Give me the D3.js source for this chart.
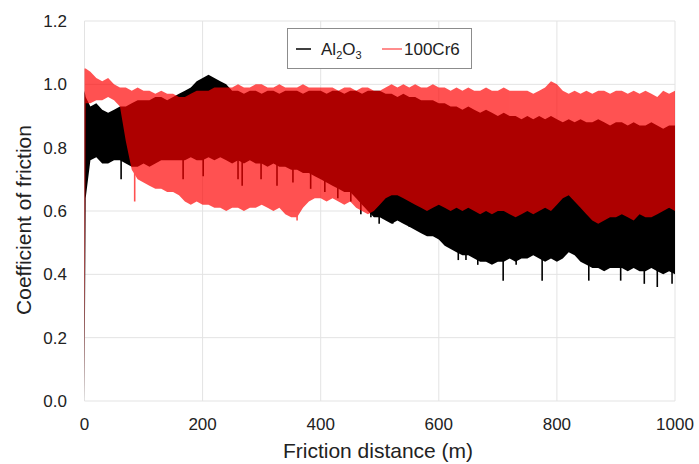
<!DOCTYPE html>
<html><head><meta charset="utf-8">
<script src="https://cdn.jsdelivr.net/npm/d3@7"></script>
<style>body{margin:0;background:#fff}svg{display:block}</style>
</head><body><svg id="c" width="699" height="464"></svg>
<script>
// Friction distance (m) of each sample of the band envelopes
const distance = [0,2,10,20,30,40,50,60,70,80,90,100,110,120,130,140,150,160,170,180,190,200,210,220,230,240,250,260,270,280,290,300,310,320,330,340,350,360,370,380,390,400,410,420,430,440,450,460,470,480,490,500,510,520,530,540,550,560,570,580,590,600,610,620,630,640,650,660,670,680,690,700,710,720,730,740,750,760,770,780,790,800,810,820,830,840,850,860,870,880,890,900,910,920,930,940,950,960,970,980,990,1000];
// Al2O3 : upper / lower envelope of the oscillating friction trace
const al2o3Upper = [0.98,0.96,0.93,0.94,0.92,0.91,0.92,0.93,0.93,0.94,0.95,0.95,0.95,0.96,0.96,0.95,0.96,0.97,0.98,0.99,1.01,1.02,1.03,1.02,1.01,1.00,0.98,0.98,0.97,0.98,0.98,0.97,0.98,0.98,0.97,0.98,0.98,0.98,0.97,0.98,0.98,0.98,0.97,0.98,0.98,0.97,0.98,0.98,0.97,0.98,0.98,0.98,0.97,0.97,0.96,0.97,0.96,0.96,0.95,0.95,0.95,0.94,0.94,0.93,0.93,0.92,0.93,0.92,0.91,0.92,0.91,0.90,0.91,0.90,0.90,0.89,0.90,0.89,0.90,0.89,0.90,0.89,0.88,0.89,0.88,0.89,0.88,0.88,0.89,0.88,0.87,0.88,0.88,0.87,0.88,0.87,0.87,0.88,0.87,0.86,0.87,0.87];
const al2o3Lower = [0.00,0.64,0.76,0.77,0.75,0.75,0.76,0.76,0.75,0.74,0.74,0.75,0.74,0.75,0.76,0.76,0.76,0.76,0.76,0.77,0.76,0.76,0.77,0.76,0.77,0.76,0.75,0.76,0.75,0.76,0.75,0.75,0.74,0.75,0.74,0.74,0.73,0.73,0.72,0.72,0.71,0.70,0.69,0.68,0.67,0.66,0.66,0.64,0.62,0.60,0.58,0.58,0.57,0.56,0.57,0.56,0.55,0.54,0.53,0.52,0.52,0.51,0.49,0.48,0.47,0.46,0.46,0.45,0.44,0.44,0.43,0.44,0.44,0.45,0.44,0.45,0.45,0.46,0.45,0.44,0.45,0.44,0.45,0.47,0.46,0.44,0.43,0.42,0.42,0.41,0.42,0.42,0.42,0.41,0.42,0.41,0.41,0.42,0.41,0.40,0.41,0.40];
// Al2O3 : deepest single downward spikes (distance, value)
const al2o3DipDistance = [62,167,201,260,267,299,326,353,383,407,429,451,468,485,499,522,550,575,633,646,666,709,731,775,854,908,948,970,995];
const al2o3DipValue = [0.70,0.70,0.71,0.70,0.68,0.70,0.68,0.69,0.67,0.66,0.64,0.63,0.59,0.58,0.56,0.56,0.55,0.53,0.445,0.445,0.43,0.38,0.43,0.38,0.38,0.38,0.37,0.36,0.37];
// 100Cr6 : upper / lower envelope
const cr6Upper = [1.05,1.05,1.04,1.02,1.01,1.02,1.00,0.99,0.99,0.98,0.99,0.98,0.98,0.97,0.98,0.97,0.97,0.96,0.96,0.97,0.98,0.98,0.98,0.99,0.99,0.99,0.99,1.00,0.99,0.99,1.00,1.00,0.99,0.99,1.00,0.99,0.99,0.99,1.00,0.99,0.99,0.99,0.99,0.99,0.98,0.99,0.99,0.98,0.99,0.99,0.98,0.98,0.99,1.00,0.99,1.00,0.99,1.00,0.99,0.99,1.00,0.99,0.99,0.98,0.99,0.98,0.99,0.98,0.98,0.99,0.98,0.98,0.99,0.98,0.98,0.98,0.98,0.97,0.98,0.99,1.01,1.00,0.98,0.97,0.98,0.97,0.98,0.97,0.98,0.98,0.97,0.98,0.98,0.97,0.98,0.97,0.98,0.97,0.96,0.98,0.97,0.98];
const cr6Lower = [0.00,0.94,0.94,0.95,0.95,0.96,0.95,0.93,0.82,0.73,0.70,0.69,0.68,0.67,0.67,0.66,0.66,0.65,0.63,0.62,0.63,0.62,0.62,0.61,0.61,0.60,0.61,0.61,0.60,0.61,0.61,0.62,0.61,0.60,0.61,0.59,0.58,0.58,0.61,0.63,0.64,0.64,0.63,0.64,0.63,0.62,0.63,0.61,0.60,0.59,0.60,0.62,0.64,0.65,0.65,0.64,0.63,0.62,0.61,0.60,0.61,0.62,0.61,0.60,0.61,0.60,0.61,0.60,0.59,0.60,0.59,0.60,0.60,0.59,0.58,0.59,0.60,0.59,0.60,0.61,0.60,0.62,0.64,0.65,0.63,0.61,0.59,0.57,0.56,0.57,0.58,0.58,0.59,0.58,0.57,0.59,0.58,0.58,0.59,0.60,0.61,0.60];
// 100Cr6 : deepest single downward spikes
const cr6DipDistance = [85,360];
const cr6DipValue = [0.63,0.57];
const xTicks = [0,200,400,600,800,1000];
const yTicks = [0.0,0.2,0.4,0.6,0.8,1.0,1.2];
const seriesNames = ["Al2O3","100Cr6"];

const svg = d3.select("#c");
const font = "Arial, 'Liberation Sans', Helvetica, sans-serif";
const x = d3.scaleLinear().domain([0,1000]).range([84.5,675]);
const y = d3.scaleLinear().domain([0,1.2]).range([401,21]);

// grid
const g = svg.append("g");
g.selectAll("line.h").data(yTicks).join("line")
  .attr("x1",x(0)).attr("x2",x(1000))
  .attr("y1",d=>y(d)).attr("y2",d=>y(d))
  .attr("stroke","#e3e3e3").attr("stroke-width",1);
g.selectAll("line.v").data(xTicks).join("line")
  .attr("y1",y(0)).attr("y2",y(1.2))
  .attr("x1",d=>x(d)).attr("x2",d=>x(d))
  .attr("stroke","#e3e3e3").attr("stroke-width",1);

const idx = d3.range(distance.length);
const al = idx.map(i=>({d:distance[i],hi:al2o3Upper[i],lo:al2o3Lower[i]}));
const cr = idx.map(i=>({d:distance[i],hi:cr6Upper[i],lo:cr6Lower[i]}));
const area = d3.area().x(p=>x(p.d)).y0(p=>y(p.lo)).y1(p=>y(p.hi)).curve(d3.curveLinear);
const nearest = d => Math.min(distance.length-1, d3.bisectLeft(distance,d));

const alG = svg.append("g");
alG.append("path").datum(al).attr("d",area).attr("fill","#000");
alG.selectAll("line").data(al2o3DipDistance.map((d,i)=>({d, v:al2o3DipValue[i]}))).join("line")
  .attr("x1",p=>x(p.d)).attr("x2",p=>x(p.d))
  .attr("y1",p=>y(p.v)).attr("y2",p=>y(al2o3Lower[nearest(p.d)]+0.02))
  .attr("stroke","#000").attr("stroke-width",1.6);

const crG = svg.append("g").attr("opacity",0.68);
crG.append("path").datum(cr).attr("d",area).attr("fill","#ff0000");
crG.selectAll("line").data(cr6DipDistance.map((d,i)=>({d, v:cr6DipValue[i]}))).join("line")
  .attr("x1",p=>x(p.d)).attr("x2",p=>x(p.d))
  .attr("y1",p=>y(p.v)).attr("y2",p=>y(cr6Lower[nearest(p.d)]+0.02))
  .attr("stroke","#ff0000").attr("stroke-width",1.6);

// axes labels
svg.append("g").selectAll("text").data(yTicks).join("text")
  .attr("x",67).attr("y",d=>y(d)).attr("dy","0.35em")
  .attr("text-anchor","end").attr("font-family",font).attr("font-size",17).attr("fill","#222")
  .text(d=>d3.format(".1f")(d));
svg.append("g").selectAll("text").data(xTicks).join("text")
  .attr("x",d=>x(d)).attr("y",430)
  .attr("text-anchor","middle").attr("font-family",font).attr("font-size",17).attr("fill","#222")
  .text(d=>d);
svg.append("text").attr("x",378).attr("y",458).attr("text-anchor","middle")
  .attr("font-family",font).attr("font-size",21).attr("fill","#222").text("Friction distance (m)");
svg.append("text").attr("transform","translate(31,220) rotate(-90)").attr("text-anchor","middle")
  .attr("font-family",font).attr("font-size",21).attr("fill","#222").text("Coefficient of friction");

// legend
const lg = svg.append("g");
lg.append("rect").attr("x",287.5).attr("y",28.5).attr("width",184).attr("height",40)
  .attr("fill","#fff").attr("stroke","#8c8c8c").attr("stroke-width",1);
lg.append("line").attr("x1",296).attr("x2",311).attr("y1",49).attr("y2",49).attr("stroke","#000").attr("stroke-width",1.5);
const t1 = lg.append("text").attr("x",321).attr("y",55).attr("font-family",font).attr("font-size",17).attr("fill","#222");
t1.append("tspan").text("Al");
t1.append("tspan").attr("font-size",11).attr("dy",4).text("2");
t1.append("tspan").attr("dy",-4).text("O");
t1.append("tspan").attr("font-size",11).attr("dy",4).text("3");
lg.append("line").attr("x1",382).attr("x2",402).attr("y1",49).attr("y2",49).attr("stroke","#ff0000").attr("stroke-opacity",0.6).attr("stroke-width",1.5);
lg.append("text").attr("x",404).attr("y",55).attr("font-family",font).attr("font-size",17).attr("fill","#222").text(seriesNames[1]);
</script>
</body></html>
